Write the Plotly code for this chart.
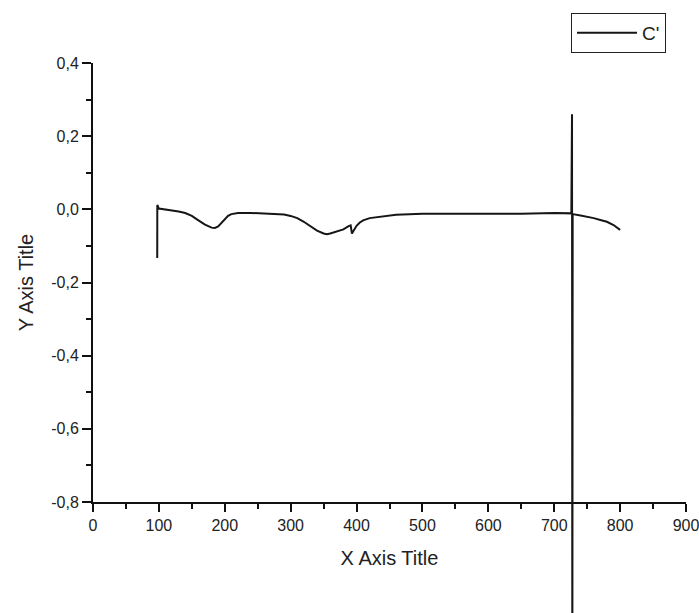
import plotly.graph_objects as go

# ---- data ----
x_vals = [97.5, 97.6, 100, 110, 120, 130, 140, 150, 160, 170, 180, 185, 190, 195,
          200, 205, 210, 220, 240, 260, 280, 290, 300, 310, 320, 330, 340, 350,
          355, 360, 370, 380, 388, 391, 393, 396, 400, 405, 410, 420, 440, 460,
          500, 550, 600, 650, 700, 720, 726, 727, 727.5, 728, 740, 750, 760,
          770, 780, 790, 800]
y_vals = [-0.133, 0.012, 0.002, 0.0, -0.003, -0.006, -0.010, -0.018, -0.030,
          -0.042, -0.050, -0.051, -0.047, -0.038, -0.027, -0.018, -0.013,
          -0.010, -0.010, -0.011, -0.012, -0.014, -0.018, -0.024, -0.034,
          -0.046, -0.058, -0.066, -0.068, -0.066, -0.061, -0.055, -0.046,
          -0.044, -0.066, -0.058, -0.045, -0.036, -0.030, -0.024, -0.019,
          -0.015, -0.012, -0.012, -0.013, -0.012, -0.010, -0.010, -0.011,
          0.26, -1.35, -0.013, -0.017, -0.020, -0.024, -0.029, -0.034,
          -0.043, -0.056]

x_ticks = [0, 100, 200, 300, 400, 500, 600, 700, 800, 900]
x_ticktext = ["0", "100", "200", "300", "400", "500", "600", "700", "800", "900"]
y_ticks = [-0.8, -0.6, -0.4, -0.2, 0.0, 0.2, 0.4]
y_ticktext = ["-0,8", "-0,6", "-0,4", "-0,2", "0,0", "0,2", "0,4"]
series_name = "C'"

# ---- layout geometry ----
W, H = 699, 613
m_l, m_r, m_t, m_b = 93, 13, 63, 0
plot_h = H - m_t - m_b
axis_bottom_px = 502
d = (H - m_b - axis_bottom_px) / plot_h  # main y-domain bottom fraction
y_lo, y_hi = -0.8, 0.4
y2_lo = y_lo - (y_hi - y_lo) * d / (1 - d)
x_lo, x_hi = 0, 900
eps = 1e-6

FONT = "Liberation Sans, Arial, sans-serif"
INK = "#111111"
TXT = "#222222"

fig = go.Figure()
# empty trace that registers the visible axes subplot
fig.add_trace(go.Scatter(x=[], y=[], mode="lines", xaxis="x", yaxis="y",
                         showlegend=False, hoverinfo="skip"))
# data drawn on a full-height companion subplot so the spike can pass below the x axis
fig.add_trace(go.Scatter(
    x=x_vals, y=y_vals, mode="lines", name=series_name,
    line=dict(color="#161616", width=2.0),
    xaxis="x2", yaxis="y2", showlegend=True,
))

fig.update_layout(
    width=W, height=H,
    margin=dict(l=m_l, r=m_r, t=m_t, b=m_b, pad=0, autoexpand=False),
    paper_bgcolor="white", plot_bgcolor="rgba(0,0,0,0)",
    font=dict(family=FONT, color=TXT, size=16),
    xaxis=dict(
        domain=[0, 1], anchor="y", range=[x_lo - eps, x_hi + eps],
        automargin=False, ticklabeloverflow="allow",
        tickmode="array", tickvals=x_ticks, ticktext=x_ticktext,
        ticks="outside", ticklen=8, tickwidth=1.5, tickcolor=INK,
        showline=True, linecolor=INK, linewidth=2,
        showgrid=False, zeroline=False,
        tickfont=dict(size=16, family=FONT, color=TXT),
        minor=dict(dtick=50, tick0=0, ticks="outside", ticklen=5,
                   tickwidth=1.5, tickcolor=INK, showgrid=False),
        title=dict(text="X Axis Title", font=dict(size=20, family=FONT, color=TXT),
                   standoff=18),
    ),
    yaxis=dict(
        domain=[d, 1], anchor="x", range=[y_lo, y_hi],
        automargin=False,
        tickmode="array", tickvals=y_ticks, ticktext=y_ticktext,
        ticks="outside", ticklen=9, tickwidth=1.5, tickcolor=INK,
        showline=True, linecolor=INK, linewidth=2,
        showgrid=False, zeroline=False,
        tickfont=dict(size=16, family=FONT, color=TXT),
        minor=dict(dtick=0.1, tick0=0, ticks="outside", ticklen=5,
                   tickwidth=1.5, tickcolor=INK, showgrid=False),
        title=dict(text="Y Axis Title", font=dict(size=20, family=FONT, color=TXT),
                   standoff=12),
    ),
    xaxis2=dict(domain=[0, 1], anchor="y2", range=[x_lo - eps, x_hi + eps],
                visible=False, automargin=False, showgrid=False, zeroline=False),
    yaxis2=dict(domain=[0, 1], anchor="x2", range=[y2_lo, y_hi], visible=False,
                automargin=False, showgrid=False, zeroline=False),
    legend=dict(
        xref="container", yref="container",
        x=571 / W, y=1 - 13 / H,
        xanchor="left", yanchor="top",
        bordercolor=TXT, borderwidth=1, bgcolor="white",
        font=dict(size=19, family=FONT, color=TXT),
        itemwidth=60, entrywidth=26, entrywidthmode="pixels",
    ),
    showlegend=True,
)

fig.write_html("out.html")
